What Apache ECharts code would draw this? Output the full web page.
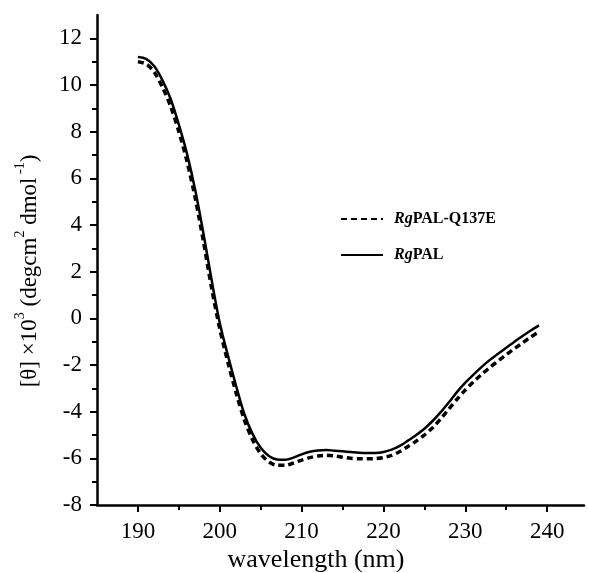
<!DOCTYPE html>
<html>
<head>
<meta charset="utf-8">
<script src="https://cdn.jsdelivr.net/npm/echarts@6/dist/echarts.min.js"></script>
<style>html,body{margin:0;padding:0;background:#fff}#c{width:589px;height:573px}</style>
</head>
<body>
<div id="c"></div>
<script>
// wavelength (nm)
var wavelengths = [190,191,192,193,194,195,196,197,198,199,200,201,202,203,204,205,206,207,208,209,210,211,212,213,214,215,216,217,218,219,220,221,222,223,224,225,226,227,228,229,230,231,232,233,234,235,236,237,238,239];
// RgPAL (solid)
var rgPAL = [11.2,11.12,10.8,10.2,9.4,8.3,7.05,5.5,3.65,1.65,-0.2,-1.6,-2.9,-4.1,-4.95,-5.55,-5.9,-6.05,-6.06,-5.97,-5.83,-5.72,-5.66,-5.64,-5.67,-5.7,-5.73,-5.76,-5.77,-5.77,-5.73,-5.63,-5.47,-5.24,-5.0,-4.73,-4.4,-4.02,-3.6,-3.15,-2.76,-2.41,-2.08,-1.78,-1.52,-1.26,-1.0,-0.76,-0.52,-0.3];
// RgPAL-Q137E (dashed)
var rgPALQ137E = [11.0,10.9,10.55,9.9,9.08,8.0,6.72,5.15,3.3,1.3,-0.45,-1.9,-3.2,-4.35,-5.2,-5.8,-6.15,-6.3,-6.3,-6.2,-6.08,-5.97,-5.9,-5.87,-5.9,-5.95,-6.0,-6.02,-6.02,-6.01,-5.97,-5.87,-5.71,-5.49,-5.26,-5.0,-4.69,-4.3,-3.88,-3.46,-3.07,-2.72,-2.4,-2.1,-1.83,-1.56,-1.3,-1.05,-0.8,-0.58];
var seriesNames = ['RgPAL-Q137E', 'RgPAL'];
var xMajorTicks = [190,200,210,220,230,240];
var xMinorTicks = [195,205,215,225,235];
var yMajorTicks = [-8,-6,-4,-2,0,2,4,6,8,10,12];
var yMinorTicks = [-7,-5,-3,-1,1,3,5,7,9,11];

var FONT = "'Liberation Serif','Times New Roman',serif";
function pairs(xs, ys){ return xs.map(function(x,i){ return [x, ys[i]]; }); }

var chart = echarts.init(document.getElementById('c'), null, {renderer:'canvas'});
var xBase = {type:'value', min:185, max:244.5, position:'bottom', splitLine:{show:false}};
var yBase = {type:'value', min:-8, max:13, position:'left', splitLine:{show:false}};
chart.setOption({
  animation:false,
  backgroundColor:'#fff',
  grid:{left:97, right:5, top:15, bottom:68, containLabel:false},
  xAxis:[
    Object.assign({}, xBase, {
      axisLine:{onZero:false, lineStyle:{color:'#000', width:2.5}},
      axisTick:{customValues:xMajorTicks, length:7, lineStyle:{color:'#000', width:2}},
      axisLabel:{customValues:xMajorTicks, color:'#000', fontFamily:FONT, fontSize:23, margin:15}
    }),
    Object.assign({}, xBase, {
      axisLine:{show:false, onZero:false},
      axisTick:{customValues:xMinorTicks, length:5, lineStyle:{color:'#000', width:2}},
      axisLabel:{show:false}
    })
  ],
  yAxis:[
    Object.assign({}, yBase, {
      axisLine:{onZero:false, lineStyle:{color:'#000', width:2.5}},
      axisTick:{customValues:yMajorTicks, length:7, lineStyle:{color:'#000', width:2}},
      axisLabel:{customValues:yMajorTicks, color:'#000', fontFamily:FONT, fontSize:23, margin:15}
    }),
    Object.assign({}, yBase, {
      axisLine:{show:false, onZero:false},
      axisTick:{customValues:yMinorTicks, length:5, lineStyle:{color:'#000', width:2}},
      axisLabel:{show:false}
    })
  ],
  legend:{
    orient:'vertical', left:335, top:206, itemWidth:42, itemHeight:14, itemGap:20,
    data:seriesNames,
    itemStyle:{opacity:0},
    formatter:function(n){ return '{i|Rg}{b|' + n.slice(2) + '}'; },
    textStyle:{padding:[0,0,0,6], rich:{
      i:{fontFamily:FONT, fontSize:16, fontWeight:'bold', fontStyle:'italic', color:'#000'},
      b:{fontFamily:FONT, fontSize:16, fontWeight:'bold', color:'#000'}
    }}
  },
  graphic:[
    {type:'text', x:316, y:560, style:{text:'wavelength (nm)', font:'26px ' + FONT, fill:'#000', align:'center', verticalAlign:'middle'}},
    {type:'text', x:27, y:271, rotation:Math.PI/2, style:{
      text:'{n|[θ] ×10}{s|3}{n| (degcm}{s|2}{n| dmol}{s| -1}{n|)}', fill:'#000', align:'center', verticalAlign:'middle',
      font:'23px ' + FONT,
      rich:{
        n:{fontFamily:FONT, fontSize:23, lineHeight:28, verticalAlign:'bottom', fill:'#000'},
        s:{fontFamily:FONT, fontSize:14, lineHeight:12, verticalAlign:'top', fill:'#000'}
      }
    }}
  ],
  series:[
    {name:seriesNames[0], type:'line', xAxisIndex:0, yAxisIndex:0, symbol:'none', smooth:0.3,
     data:pairs(wavelengths, rgPALQ137E), lineStyle:{color:'#000', width:3.5, type:[6,4]}, itemStyle:{color:'#000'}},
    {name:seriesNames[1], type:'line', xAxisIndex:0, yAxisIndex:0, symbol:'none', smooth:0.3,
     data:pairs(wavelengths, rgPAL), lineStyle:{color:'#000', width:2.5, type:'solid'}, itemStyle:{color:'#000'}}
  ]
});
</script>
</body>
</html>
